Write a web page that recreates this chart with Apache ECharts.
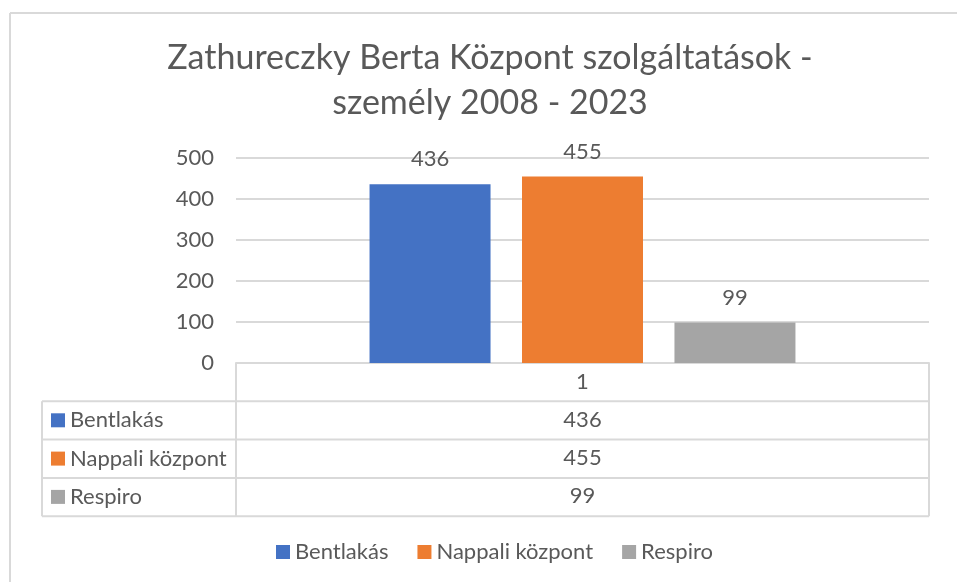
<!DOCTYPE html>
<html>
<head>
<meta charset="utf-8">
<script src="https://cdn.jsdelivr.net/npm/echarts@6/dist/echarts.min.js"></script>
<style>
html,body{margin:0;padding:0;background:#fff;}
#chart{width:957px;height:582px;}
</style>
</head>
<body>
<div id="chart"></div>
<script>
var titleText = 'Zathureczky Berta Központ szolgáltatások -\nszemély 2008 - 2023';
var categories = ['1'];
var seriesNames = ['Bentlakás', 'Nappali központ', 'Respiro'];
var bentlakas = [436];
var nappali = [455];
var respiro = [99];
var yTicks = [0, 100, 200, 300, 400, 500];
var colors = ['#4472C4', '#ED7D31', '#A5A5A5'];

var FONT = 'Lato';
var TXT = '#595959';
var LINE = '#D9D9D9';

// layout
var W = 957, H = 582;
var gL = 236, gR = 929, gT = 158, gB = 363;
var tabL = 42, rowH = 38.3;
var tabBottom = gB + rowH * 4;

var chart = echarts.init(document.getElementById('chart'), null, {renderer: 'canvas'});

var seriesValues = [bentlakas, nappali, respiro];
var series = seriesNames.map(function (n, i) {
  return {
    name: n,
    type: 'bar',
    data: seriesValues[i],
    barWidth: 121,
    barGap: '26%',
    itemStyle: {color: colors[i]},
    label: {show: true, position: 'top', distance: 14, color: TXT, fontFamily: FONT, fontSize: 22}
  };
});

var graphics = [];
// frame (top + left edges visible)
graphics.push({type: 'line', shape: {x1: 10, y1: 13, x2: W, y2: 13}, style: {stroke: LINE, lineWidth: 2}, silent: true});
graphics.push({type: 'line', shape: {x1: 10, y1: 13, x2: 10, y2: H}, style: {stroke: LINE, lineWidth: 2}, silent: true});
// data table lines
var lineStyle = {stroke: LINE, lineWidth: 2};
graphics.push({type: 'line', shape: {x1: gR, y1: gB, x2: gR, y2: tabBottom}, style: lineStyle, silent: true});
graphics.push({type: 'line', shape: {x1: gL, y1: gB, x2: gL, y2: tabBottom}, style: lineStyle, silent: true});
graphics.push({type: 'line', shape: {x1: tabL, y1: gB + rowH, x2: tabL, y2: tabBottom}, style: lineStyle, silent: true});
for (var r = 1; r <= 4; r++) {
  graphics.push({type: 'line', shape: {x1: tabL, y1: gB + rowH * r, x2: gR, y2: gB + rowH * r}, style: lineStyle, silent: true});
}
// data table values
seriesValues.forEach(function (vals, i) {
  graphics.push({
    type: 'text',
    x: (gL + gR) / 2,
    y: gB + rowH * (i + 1.5) - 1,
    style: {text: String(vals[0]), fill: TXT, font: '22px ' + FONT, align: 'center', verticalAlign: 'middle'},
    silent: true
  });
});

var option = {
  backgroundColor: '#fff',
  animation: false,
  color: colors,
  title: {
    text: titleText,
    left: 485,
    textAlign: 'center',
    top: 31,
    textStyle: {color: TXT, fontFamily: FONT, fontSize: 34, fontWeight: 'normal', lineHeight: 45}
  },
  legend: [
    {
      data: seriesNames,
      bottom: 14,
      left: 271,
      icon: 'rect',
      itemWidth: 14,
      itemHeight: 14,
      itemGap: 29,
      selectedMode: false,
      textStyle: {color: TXT, fontFamily: FONT, fontSize: 22}
    },
    {
      data: seriesNames,
      orient: 'vertical',
      left: 46,
      top: gB + rowH + 3,
      icon: 'rect',
      itemWidth: 14,
      itemHeight: 14,
      itemGap: rowH - 22,
      selectedMode: false,
      textStyle: {color: TXT, fontFamily: FONT, fontSize: 22, lineHeight: 22}
    }
  ],
  grid: {left: gL, right: W - gR, top: gT, bottom: H - gB, containLabel: false},
  xAxis: {
    type: 'category',
    data: categories,
    axisLine: {show: true, lineStyle: {color: LINE, width: 2}},
    axisTick: {show: false},
    axisLabel: {color: TXT, fontFamily: FONT, fontSize: 22, margin: 8}
  },
  yAxis: {
    type: 'value',
    min: yTicks[0],
    max: yTicks[yTicks.length - 1],
    interval: yTicks[1] - yTicks[0],
    axisLine: {show: false},
    axisTick: {show: false},
    splitLine: {lineStyle: {color: LINE, width: 2}},
    axisLabel: {color: TXT, fontFamily: FONT, fontSize: 22, margin: 22}
  },
  graphic: graphics,
  series: series
};
chart.setOption(option);
</script>
</body>
</html>
